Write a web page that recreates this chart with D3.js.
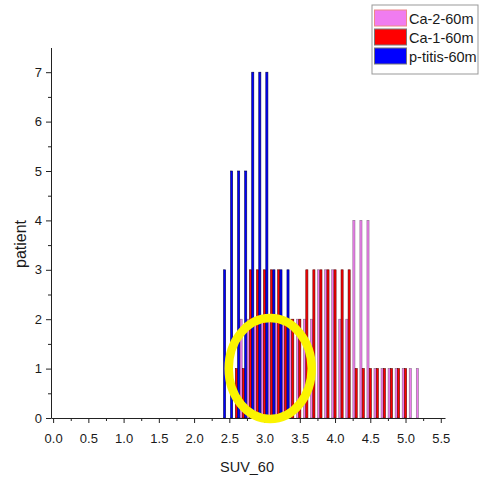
<!DOCTYPE html>
<html>
<head>
<meta charset="utf-8">
<script src="https://cdn.jsdelivr.net/npm/d3@7"></script>
<style>
  body { margin: 0; background: #fff; }
  text { font-family: "Liberation Sans", Arial, sans-serif; }
</style>
</head>
<body>
<script>
const width = 483
const height = 477

// histogram bins (SUV_60, step 0.1) and patient counts per series
const bins = [2.4, 2.5, 2.6, 2.7, 2.8, 2.9, 3.0, 3.1, 3.2, 3.3, 3.4, 3.5, 3.6, 3.7, 3.8, 3.9, 4.0, 4.1, 4.2, 4.3, 4.4, 4.5, 4.6, 4.7, 4.8, 4.9, 5.0, 5.1, 5.2]
const ca2 =    [0, 0, 0, 2, 2, 2, 2, 2, 2, 2, 2, 2, 2, 2, 3, 3, 3, 2, 2, 4, 4, 4, 1, 1, 1, 1, 1, 1, 1]
const ca1 =    [0, 0, 1, 1, 3, 3, 3, 3, 3, 2, 2, 2, 3, 3, 3, 3, 3, 3, 3, 1, 1, 1, 1, 1, 1, 1, 1, 0, 0]
const ptitis = [3, 5, 5, 5, 7, 7, 7, 3, 3, 3, 0, 0, 0, 0, 0, 0, 0, 0, 0, 0, 0, 0, 0, 0, 0, 0, 0, 0, 0]

const seriesNames = ['Ca-2-60m', 'Ca-1-60m', 'p-titis-60m']
const seriesValues = [ca2, ca1, ptitis]
const seriesColors = ['#f07cf0', '#ff0000', '#0000ff']
const seriesStroke = ['#8a6a8a', '#5a0000', '#00004a']

const xTicks = [0, 0.5, 1, 1.5, 2, 2.5, 3, 3.5, 4, 4.5, 5, 5.5]
const yTicks = [0, 1, 2, 3, 4, 5, 6, 7]

const svg = d3.select('body')
        .append('svg')
        .attr('width', width)
        .attr('height', height)

// scales
const x = d3.scaleLinear()
        .domain([-0.03, 5.56])
        .range([51, 445])

const y = d3.scaleLinear()
        .domain([0, 7.5])
        .range([418, 47.5])

// slot of each series inside a bin
const slot = d3.scaleBand()
        .domain(seriesNames)
        .range([-3.45, 3.45])

// bars
const bars = []
seriesNames.forEach((name, s) => {
    bins.forEach((b, i) => {
        if (seriesValues[s][i] > 0) bars.push({ name: name, s: s, bin: b, v: seriesValues[s][i] })
    })
})

svg.append('g')
        .selectAll('rect')
        .data(bars)
        .join('rect')
        .attr('x', d => x(d.bin) + slot(d.name) + 0.1)
        .attr('y', d => y(d.v))
        .attr('width', slot.bandwidth() - 0.2)
        .attr('height', d => y(0) - y(d.v))
        .attr('fill', d => seriesColors[d.s])
        .attr('stroke', d => seriesStroke[d.s])
        .attr('stroke-width', 0.6)

// x axis
const xAxis = d3.axisBottom(x)
        .tickValues(xTicks)
        .tickFormat(d3.format('.1f'))
        .tickSize(5)
        .tickSizeOuter(0)
        .tickPadding(11)

svg.append('g')
        .attr('transform', 'translate(0,' + y(0) + ')')
        .call(xAxis)

svg.append('g')
        .attr('transform', 'translate(0,' + y(0) + ')')
        .call(d3.axisBottom(x).tickValues(d3.range(0.25, 5.5, 0.5)).tickSize(3).tickFormat('').tickSizeOuter(0))
        .call(g => g.select('.domain').remove())

// y axis
const yAxis = d3.axisLeft(y)
        .tickValues(yTicks)
        .tickFormat(d3.format('d'))
        .tickSize(5)
        .tickSizeOuter(0)
        .tickPadding(4)

svg.append('g')
        .attr('transform', 'translate(' + x.range()[0] + ',0)')
        .call(yAxis)

svg.append('g')
        .attr('transform', 'translate(' + x.range()[0] + ',0)')
        .call(d3.axisLeft(y).tickValues(d3.range(0.5, 7.5, 1)).tickSize(3).tickFormat('').tickSizeOuter(0))
        .call(g => g.select('.domain').remove())

svg.selectAll('.domain, .tick line')
        .attr('stroke', '#222')
svg.selectAll('.tick text')
        .attr('font-size', '13px')
        .attr('fill', '#1a1a1a')
        .style('font-family', '"Liberation Sans", Arial, sans-serif')

// axis titles
svg.append('text')
        .text('SUV_60')
        .attr('x', 247)
        .attr('y', 472)
        .attr('text-anchor', 'middle')
        .attr('font-size', '14.5px')
        .attr('fill', '#1a1a1a')

svg.append('text')
        .text('patient')
        .attr('transform', 'translate(26,244) rotate(-90)')
        .attr('text-anchor', 'middle')
        .attr('font-size', '16px')
        .attr('fill', '#1a1a1a')

// yellow highlight ring
svg.append('ellipse')
        .attr('cx', x(3.08))
        .attr('cy', y(1))
        .attr('rx', 41.5)
        .attr('ry', 50.5)
        .attr('fill', 'none')
        .attr('stroke', '#fbf400')
        .attr('stroke-width', 8.5)

// legend
const legend = svg.append('g')
        .attr('transform', 'translate(372,5)')

legend.append('rect')
        .attr('width', 106)
        .attr('height', 69)
        .attr('fill', '#fff')
        .attr('stroke', '#999')
        .attr('stroke-width', 1)

seriesNames.forEach((name, i) => {
    legend.append('rect')
        .attr('x', 2.5)
        .attr('y', 5 + i * 19)
        .attr('width', 32)
        .attr('height', 16)
        .attr('fill', seriesColors[i])
        .attr('stroke', i == 0 ? '#e88' : '#777')
        .attr('stroke-width', 1)
    legend.append('text')
        .text(name)
        .attr('x', 37)
        .attr('y', 19 + i * 19)
        .attr('font-size', '14.5px')
        .attr('fill', '#1a1a1a')
})
</script>
</body>
</html>
